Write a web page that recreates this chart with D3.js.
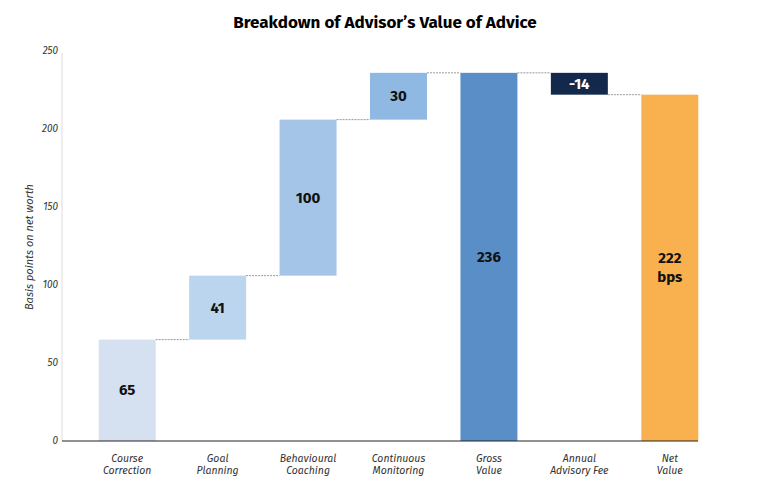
<!DOCTYPE html>
<html><head><meta charset="utf-8">
<script src="https://cdn.jsdelivr.net/npm/d3@7"></script>
<style>body{margin:0;background:#fff;font-family:"Fira Sans","Open Sans",sans-serif;}</style>
</head><body><div id="chart"></div>
<script>
const categories = ["Course\nCorrection","Goal\nPlanning","Behavioural\nCoaching","Continuous\nMonitoring","Gross\nValue","Annual\nAdvisory Fee","Net\nValue"];
const values = [65, 41, 100, 30, 236, -14, 222];
const kinds = ["step","step","step","step","total","step","total"];
const labels = ["65","41","100","30","236","-14","222\nbps"];
const colors = ["#d5e0f1","#bcd5ee","#a4c4e8","#8fb9e3","#5a8ec6","#13294b","#f9b04e"];
const yTicks = [0,50,100,150,200,250];

const width = 770, height = 492;
const svg = d3.select("#chart").append("svg").attr("width", width).attr("height", height);

const x = d3.scaleBand().domain(categories).range([82, 715]).paddingInner(0.37).paddingOuter(0.185);
const y = d3.scaleLinear().domain([0, 250]).range([441, 51]);

let run = 0;
const bars = values.map((v, i) => {
  let y0, y1;
  if (kinds[i] === "total") { y0 = 0; y1 = v; run = v; }
  else { y0 = run; y1 = run + v; run = y1; }
  return {cat: categories[i], y0, y1, end: run, i};
});

svg.append("text").attr("x", 385).attr("y", 28).attr("text-anchor", "middle")
  .attr("font-size", 17).attr("font-weight", 700).text("Breakdown of Advisor\u2019s Value of Advice");

// y axis
svg.append("line").attr("x1", 62).attr("x2", 62).attr("y1", 53).attr("y2", 441).attr("stroke", "#ddd");
yTicks.forEach(t => {
  svg.append("text").attr("x", 58).attr("y", y(t) + 3).attr("text-anchor", "end")
    .attr("font-size", 10).attr("font-style", "italic").attr("fill", "#333").text(t);
});
svg.append("text").attr("transform", "translate(33,247) rotate(-90)").attr("text-anchor", "middle")
  .attr("font-size", 11).attr("font-style", "italic").attr("fill", "#333").text("Basis points on net worth");

// connectors
bars.forEach((b, i) => {
  if (i === bars.length - 1) return;
  svg.append("line").attr("x1", x(b.cat) + x.bandwidth()).attr("x2", x(bars[i + 1].cat))
    .attr("y1", y(b.end)).attr("y2", y(b.end))
    .attr("stroke", "#999").attr("stroke-dasharray", "2,1").attr("stroke-width", 1);
});

// bars
svg.selectAll("rect.bar").data(bars).join("rect").attr("class", "bar")
  .attr("x", d => x(d.cat)).attr("width", x.bandwidth())
  .attr("y", d => y(Math.max(d.y0, d.y1))).attr("height", d => Math.abs(y(d.y0) - y(d.y1)))
  .attr("fill", d => colors[d.i]);

// labels
bars.forEach(b => {
  const lines = labels[b.i].split("\n");
  const cy = y((b.y0 + b.y1) / 2);
  const t = svg.append("text").attr("text-anchor", "middle").attr("font-size", 15).attr("font-weight", 700)
    .attr("fill", b.i === 5 ? "#fff" : "#111");
  lines.forEach((l, k) => {
    t.append("tspan").attr("x", x(b.cat) + x.bandwidth() / 2)
      .attr("y", cy + 5 + (k - (lines.length - 1) / 2) * 19).text(l);
  });
});

// x axis
svg.append("line").attr("x1", 62).attr("x2", 698).attr("y1", 441).attr("y2", 441).attr("stroke", "#222");
categories.forEach(c => {
  const t = svg.append("text").attr("text-anchor", "middle").attr("font-size", 10.5)
    .attr("font-style", "italic").attr("fill", "#333");
  c.split("\n").forEach((l, k) => {
    t.append("tspan").attr("x", x(c) + x.bandwidth() / 2).attr("y", 462 + k * 12).text(l);
  });
});
</script></body></html>
